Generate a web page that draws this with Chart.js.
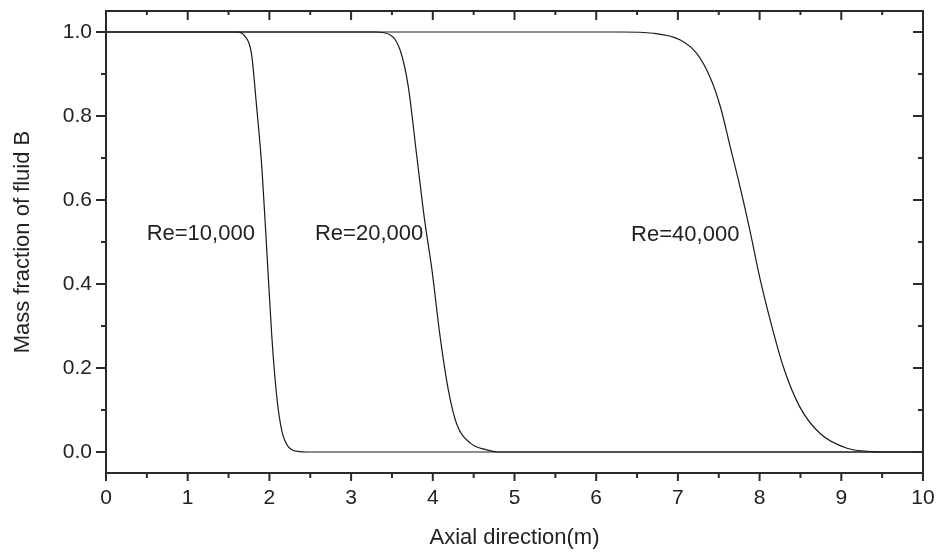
<!DOCTYPE html>
<html>
<head>
<meta charset="utf-8">
<script src="https://cdn.jsdelivr.net/npm/chart.js@4.4.1/dist/chart.umd.min.js"></script>
<style>
  html, body { margin: 0; padding: 0; background: #fff; }
  #wrap { width: 939px; height: 552px; }
</style>
</head>
<body>
<div id="wrap"><canvas id="chart"></canvas></div>
<script>
// values
const re10X = [0, 1.60, 1.70, 1.78, 1.84, 1.91, 1.97, 2.03, 2.09, 2.15, 2.23, 2.37, 2.5, 10];
const re10Y = [1, 1.0, 0.99, 0.949, 0.83, 0.671, 0.473, 0.274, 0.132, 0.052, 0.013, 0.001, 0, 0];

const re20X = [0, 3.29, 3.48, 3.60, 3.70, 3.80, 3.90, 3.99, 4.09, 4.19, 4.29, 4.46, 4.66, 4.8, 10];
const re20Y = [1, 1.0, 0.993, 0.957, 0.87, 0.711, 0.552, 0.433, 0.274, 0.148, 0.068, 0.021, 0.005, 0, 0];

const re40X = [0, 6.29, 6.70, 7.03, 7.23, 7.39, 7.52, 7.64, 7.76, 7.88, 8.00, 8.13, 8.29, 8.49, 8.74, 9.07, 9.39, 9.6, 10];
const re40Y = [1, 1.0, 0.997, 0.981, 0.949, 0.894, 0.822, 0.727, 0.632, 0.529, 0.417, 0.314, 0.203, 0.108, 0.044, 0.009, 0.001, 0, 0];

const xTicks = [0, 1, 2, 3, 4, 5, 6, 7, 8, 9, 10];
const yTicks = [0, 0.2, 0.4, 0.6, 0.8, 1.0];

const curveLabels = ["Re=10,000", "Re=20,000", "Re=40,000"];
const labelX = [1.16, 3.22, 7.09];
const labelY = [0.52, 0.52, 0.518];

const textColor = "#222";
const fontFamily = "'Liberation Sans', Arial, sans-serif";

function toPoints(xs, ys) {
    let pts = [];
    for (let i = 0; i < xs.length; i++) {
        pts.push({ x: xs[i], y: ys[i] });
    }
    return pts;
}

function makeSet(xs, ys) {
    return {
        data: toPoints(xs, ys),
        borderColor: "#1a1a1a",
        borderWidth: 1.2,
        pointRadius: 0,
        fill: false,
        cubicInterpolationMode: "monotone"
    };
}

// frame, inward/outward ticks and the curve labels
const framePlugin = {
    id: "frame",
    afterDraw(chart) {
        const c = chart.ctx;
        const area = chart.chartArea;
        const xs = chart.scales.x;
        const ys = chart.scales.y;

        c.save();
        c.strokeStyle = "#2a2a2a";
        c.lineWidth = 2;
        c.strokeRect(area.left, area.top, area.right - area.left, area.bottom - area.top);

        c.beginPath();
        for (let i = 0; i < xTicks.length; i++) {
            let px = xs.getPixelForValue(xTicks[i]);
            c.moveTo(px, area.bottom); c.lineTo(px, area.bottom + 8);
            c.moveTo(px, area.top); c.lineTo(px, area.top + 9);
            if (i < xTicks.length - 1) {
                let mx = xs.getPixelForValue((xTicks[i] + xTicks[i + 1]) / 2);
                c.moveTo(mx, area.bottom); c.lineTo(mx, area.bottom + 5);
                c.moveTo(mx, area.top); c.lineTo(mx, area.top + 4);
            }
        }
        for (let i = 0; i < yTicks.length; i++) {
            let py = ys.getPixelForValue(yTicks[i]);
            c.moveTo(area.left, py); c.lineTo(area.left - 10, py);
            c.moveTo(area.right, py); c.lineTo(area.right - 10, py);
            if (i < yTicks.length - 1) {
                let my = ys.getPixelForValue((yTicks[i] + yTicks[i + 1]) / 2);
                c.moveTo(area.left, my); c.lineTo(area.left - 5, my);
                c.moveTo(area.right, my); c.lineTo(area.right - 5, my);
            }
        }
        c.stroke();

        c.fillStyle = textColor;
        c.font = "22px " + fontFamily;
        c.textAlign = "center";
        c.textBaseline = "middle";
        for (let i = 0; i < curveLabels.length; i++) {
            c.fillText(curveLabels[i], xs.getPixelForValue(labelX[i]), ys.getPixelForValue(labelY[i]));
        }
        c.restore();
    }
};

const chart = document.getElementById("chart");
const ctx = chart.getContext("2d");

const myChart = new Chart(ctx, {
    type: "line",
    data: {
        datasets: [makeSet(re10X, re10Y), makeSet(re20X, re20Y), makeSet(re40X, re40Y)]
    },
    options: {
        responsive: true,
        maintainAspectRatio: false,
        animation: false,
        layout: { padding: { left: 0, top: 11, right: 16, bottom: 0 } },
        plugins: {
            legend: { display: false },
            tooltip: { enabled: false }
        },
        scales: {
            x: {
                type: "linear",
                min: 0,
                max: 10,
                afterBuildTicks: s => { s.ticks = xTicks.map(v => ({ value: v })); },
                afterFit: s => {
                    s.height = 79;
                    s.paddingLeft = 0;
                    s.paddingRight = 0;
                },
                grid: { drawOnChartArea: false, drawTicks: false },
                border: { display: false },
                ticks: {
                    color: textColor,
                    padding: 13,
                    maxRotation: 0,
                    font: { family: fontFamily, size: 21 },
                    callback: v => String(v)
                },
                title: {
                    display: true,
                    text: "Axial direction(m)",
                    color: textColor,
                    font: { family: fontFamily, size: 22 },
                    padding: { top: 0, bottom: 1 }
                }
            },
            y: {
                type: "linear",
                min: -0.05,
                max: 1.05,
                afterBuildTicks: s => { s.ticks = yTicks.map(v => ({ value: v })); },
                afterFit: s => {
                    s.width = 106;
                    s.paddingTop = 0;
                    s.paddingBottom = 0;
                },
                grid: { drawOnChartArea: false, drawTicks: false },
                border: { display: false },
                ticks: {
                    color: textColor,
                    padding: 14,
                    font: { family: fontFamily, size: 21 },
                    callback: v => Number(v).toFixed(1)
                },
                title: {
                    display: true,
                    text: "Mass fraction of fluid B",
                    color: textColor,
                    font: { family: fontFamily, size: 22 },
                    padding: { top: 10, bottom: 0 }
                }
            }
        }
    },
    plugins: [framePlugin]
});
</script>
</body>
</html>
